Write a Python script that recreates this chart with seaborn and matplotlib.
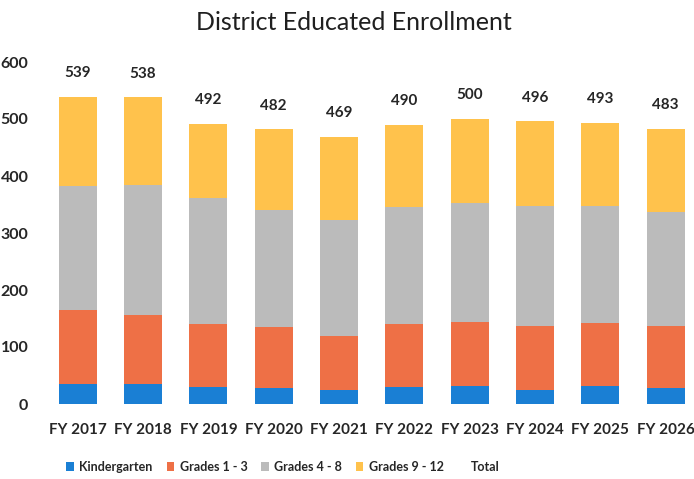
import matplotlib
matplotlib.use("Agg")
import matplotlib.pyplot as plt
from matplotlib.patches import Patch
import numpy as np
import pandas as pd
import seaborn as sns

years = ["FY 2017", "FY 2018", "FY 2019", "FY 2020", "FY 2021",
         "FY 2022", "FY 2023", "FY 2024", "FY 2025", "FY 2026"]
kindergarten = [35, 35, 30, 28, 25, 30, 32, 25, 32, 28]
grades_1_3 = [130, 122, 110, 107, 94, 110, 111, 112, 110, 109]
grades_4_8 = [218, 227, 221, 206, 204, 206, 209, 210, 205, 200]
grades_9_12 = [156, 154, 131, 141, 146, 144, 148, 149, 146, 146]
totals = [539, 538, 492, 482, 469, 490, 500, 496, 493, 483]

series_names = ["Kindergarten", "Grades 1 - 3", "Grades 4 - 8", "Grades 9 - 12"]
colors = ["#1A7FD4", "#EE7046", "#BBBBBB", "#FFC24C"]

sns.set_theme(style="white")
plt.rcParams["font.family"] = ["Lato", "DejaVu Sans"]

df = pd.DataFrame({
    "year": years,
    "Kindergarten": kindergarten,
    "Grades 1 - 3": grades_1_3,
    "Grades 4 - 8": grades_4_8,
    "Grades 9 - 12": grades_9_12,
})
# cumulative heights so each layer can be drawn over the one above it
cum = df[series_names].cumsum(axis=1)
cum["year"] = df["year"]

fig = plt.figure(figsize=(6.94, 4.79), dpi=100)
ax = fig.add_axes([45 / 694, 1 - 404 / 479, 650 / 694, 342 / 479])

for name, color in reversed(list(zip(series_names, colors))):
    sns.barplot(data=cum, x="year", y=name, color=color, width=0.58,
                saturation=1, ax=ax, linewidth=0)

for i, t in enumerate(totals):
    ax.annotate(f"{t}", xy=(i, t), xytext=(0, 17), textcoords="offset points",
                ha="center", va="center", fontsize=11, fontweight="bold",
                color="#262626")

ax.set_ylim(0, 600)
ax.set_xlim(-0.5, 9.45)
ax.set_yticks([0, 100, 200, 300, 400, 500, 600])
ax.set_xlabel("")
ax.set_ylabel("")
for s in ax.spines.values():
    s.set_visible(False)
ax.tick_params(axis="y", length=0, pad=12, labelsize=11.5, labelcolor="#262626")
ax.tick_params(axis="x", length=0, pad=14, labelsize=11, labelcolor="#262626")
for lbl in ax.get_yticklabels() + ax.get_xticklabels():
    lbl.set_fontweight("bold")

fig.text(0.51, 1 - 22 / 479, "District Educated Enrollment", ha="center",
         va="center", fontsize=18, color="#1f1f1f")

handles = [Patch(facecolor=c, edgecolor="none") for c in colors]
handles.append(Patch(facecolor="none", edgecolor="none"))
labels = series_names + ["Total"]
leg = fig.legend(handles, labels, loc="center left",
                 bbox_to_anchor=(55 / 694, 1 - 467 / 479),
                 ncol=5, frameon=False, handlelength=0.6, handleheight=0.65,
                 handletextpad=0.45, columnspacing=1.1,
                 prop={"size": 9, "weight": "bold"})
for txt in leg.get_texts():
    txt.set_color("#262626")

fig.savefig("out.png", dpi=100, facecolor="white")
